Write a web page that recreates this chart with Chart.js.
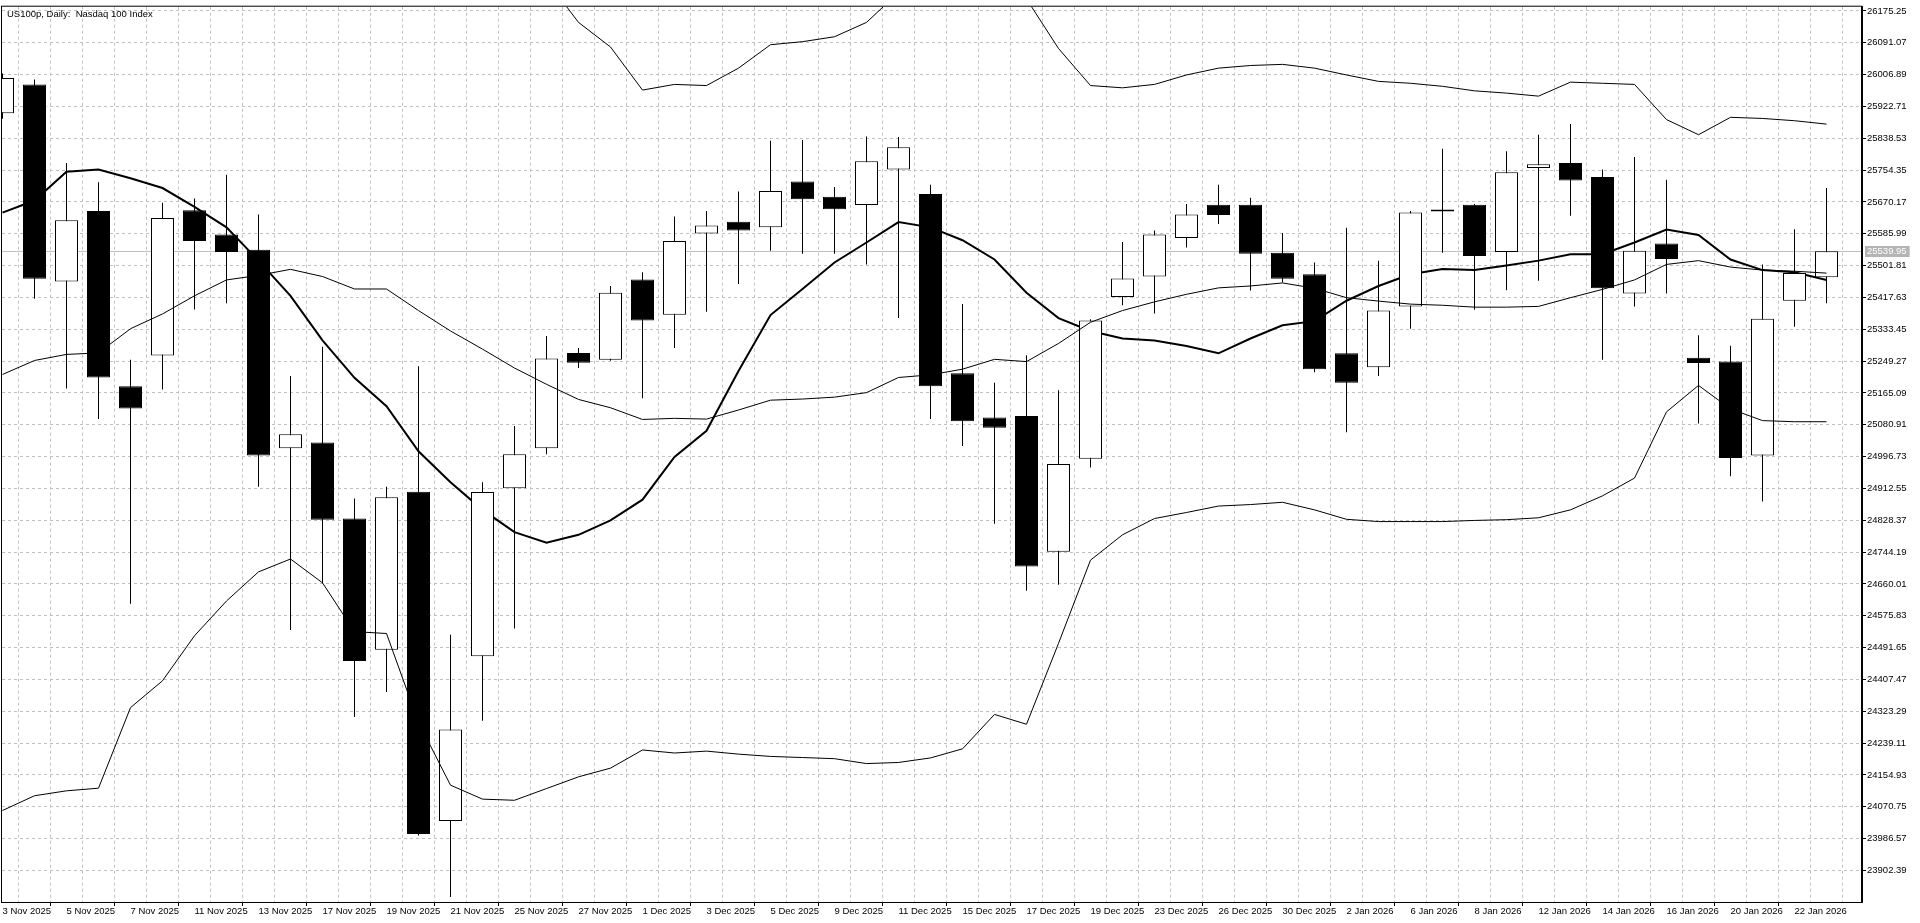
<!DOCTYPE html>
<html>
<head>
<meta charset="utf-8">
<title>US100p, Daily</title>
<script src="https://cdn.jsdelivr.net/npm/chart.js@4.4.1/dist/chart.umd.min.js"></script>
<style>
  html, body { margin: 0; padding: 0; background: #ffffff; }
  #wrap { width: 1920px; height: 923px; }
</style>
</head>
<body>
<div id="wrap"><canvas id="myChart" width="1920" height="923"></canvas></div>
<script>

// 1. 데이터
const dates = ["3 Nov 2025","4 Nov 2025","5 Nov 2025","6 Nov 2025","7 Nov 2025","10 Nov 2025","11 Nov 2025","12 Nov 2025","13 Nov 2025","14 Nov 2025",
	"17 Nov 2025","18 Nov 2025","19 Nov 2025","20 Nov 2025","21 Nov 2025","24 Nov 2025","25 Nov 2025","26 Nov 2025","27 Nov 2025","28 Nov 2025",
	"1 Dec 2025","2 Dec 2025","3 Dec 2025","4 Dec 2025","5 Dec 2025","8 Dec 2025","9 Dec 2025","10 Dec 2025","11 Dec 2025","12 Dec 2025",
	"15 Dec 2025","16 Dec 2025","17 Dec 2025","18 Dec 2025","19 Dec 2025","22 Dec 2025","23 Dec 2025","24 Dec 2025","26 Dec 2025","29 Dec 2025",
	"30 Dec 2025","31 Dec 2025","2 Jan 2026","5 Jan 2026","6 Jan 2026","7 Jan 2026","8 Jan 2026","9 Jan 2026","12 Jan 2026","13 Jan 2026",
	"14 Jan 2026","15 Jan 2026","16 Jan 2026","19 Jan 2026","20 Jan 2026","21 Jan 2026","22 Jan 2026","23 Jan 2026"];

const opens = [25905,25981,25460,25646,25183,25264,25648,25584,25544,25019,
	25034,24833,24486,24904,24033,24469,24913,25019,25271,25253,
	25465,25372,25587,25618,25603,25724,25684,25662,25756,25691,
	25217,25100,25104,24745,24991,25419,25473,25575,25663,25663,
	25536,25479,25270,25233,25394,25645,25663,25538,25760,25773,
	25736,25428,25560,25258,25248,25000,25409,25471];

const highs = [26010,25994,25773,25722,25253,25668,25679,25742,25637,25210,
	25287,24886,24917,25236,24526,24929,25078,25316,25284,25448,
	25484,25632,25646,25698,25832,25834,25710,25843,25842,25716,
	25400,25192,25265,25172,25360,25564,25595,25665,25716,25681,
	25588,25510,25602,25515,25646,25811,25665,25804,25848,25876,
	25756,25789,25729,25318,25290,25505,25598,25707];

const lows = [25890,25414,25177,25096,24608,25174,25386,25402,24917,24538,
	24662,24308,24374,23995,23832,24298,24542,25003,25231,25250,
	25151,25284,25380,25453,25541,25533,25533,25505,25363,25096,
	25025,24819,24642,24658,24968,25397,25375,25550,25612,25436,
	25457,25220,25061,25210,25335,25536,25385,25437,25462,25634,
	25253,25394,25428,25084,24945,24878,25340,25402];

const closes = [25998,25467,25622,25206,25124,25628,25567,25538,25000,25056,
	24830,24456,24889,23999,24275,24903,25003,25256,25245,25430,
	25357,25567,25608,25595,25699,25677,25651,25778,25815,25183,
	25090,25073,24706,24977,25357,25468,25584,25637,25636,25533,
	25467,25228,25192,25383,25642,25650,25527,25749,25770,25727,
	25442,25541,25519,25244,24993,25361,25482,25539.95];

// 굵은 이동평균선
const maLine = [25642,25674,25750,25756,25733,25707,25657,25603,25515,25422,
	25304,25205,25130,25011,24929,24856,24797,24769,24790,24828,
	24883,24996,25065,25223,25371,25440,25510,25563,25617,25603,
	25569,25518,25430,25363,25329,25309,25304,25289,25270,25309,
	25344,25355,25409,25448,25479,25493,25490,25502,25515,25532,
	25532,25563,25597,25583,25518,25490,25484,25464];

// 볼린저 밴드 (위쪽 값 일부는 화면 밖)
const bbUpper = [26367,26403,26421,26423,26337,26344,26320,26313,26260,26257,
	26283,26347,26351,26472,26530,26471,26375,26257,26145,26080,
	25966,25981,25978,26024,26086,26094,26107,26145,26224,26226,
	26232,26193,26207,26076,25978,25972,25981,26006,26024,26031,
	26034,26024,26006,25989,25984,25976,25964,25958,25950,25987,
	25984,25981,25888,25848,25894,25891,25885,25876];

const bbMiddle = [25214,25251,25267,25271,25335,25374,25422,25464,25476,25492,
	25473,25440,25440,25383,25329,25281,25231,25188,25148,25126,
	25095,25098,25096,25120,25146,25149,25154,25166,25206,25213,
	25228,25254,25248,25296,25352,25383,25406,25426,25443,25448,
	25456,25442,25417,25408,25400,25397,25392,25392,25394,25417,
	25439,25464,25505,25515,25498,25490,25487,25482];

const bbLower = [24061,24100,24113,24120,24333,24404,24523,24615,24692,24726,
	24663,24534,24529,24294,24128,24091,24088,24119,24150,24173,
	24221,24213,24218,24210,24204,24201,24198,24185,24188,24200,
	24224,24315,24289,24503,24723,24790,24833,24849,24866,24870,
	24876,24856,24831,24825,24825,24825,24828,24830,24835,24856,
	24893,24940,25115,25185,25123,25092,25089,25089];

// 오른쪽 가격 눈금
const priceTicks = [26175.25,26091.07,26006.89,25922.71,25838.53,25754.35,25670.17,25585.99,25501.81,25417.63,
	25333.45,25249.27,25165.09,25080.91,24996.73,24912.55,24828.37,24744.19,24660.01,24575.83,
	24491.65,24407.47,24323.29,24239.11,24154.93,24070.75,23986.57,23902.39];

const titleText = "US100p, Daily:  Nasdaq 100 Index";
const lastPrice = closes[closes.length - 1];

const font = "Liberation Sans, Arial, sans-serif";
const gridGray = "#c0c0c0";

// 2. 차트용 배열 만들기
let wickData = [];
let bodyData = [];
let bodyColor = [];
let maData = [];
let upData = [];
let midData = [];
let lowData = [];

for (let i = 0; i < dates.length; i++) {
	wickData.push({ x: i, y: [lows[i], highs[i]] });
	bodyData.push({ x: i, y: [opens[i], closes[i]] });
	bodyColor.push(closes[i] >= opens[i] ? "#ffffff" : "#000000");
	maData.push({ x: i, y: maLine[i] });
	upData.push({ x: i, y: bbUpper[i] });
	midData.push({ x: i, y: bbMiddle[i] });
	lowData.push({ x: i, y: bbLower[i] });
}

// 3. 제목, 테두리, 현재가 표시
const extras = {
	id: "extras",
	beforeDatasetsDraw(chart) {
		const ctx = chart.ctx;
		const a = chart.chartArea;
		const y = Math.round(chart.scales.y.getPixelForValue(lastPrice)) + 0.5;
		ctx.save();
		ctx.strokeStyle = "#c0c0c0";
		ctx.lineWidth = 1;
		ctx.beginPath();
		ctx.moveTo(a.left, y);
		ctx.lineTo(a.right, y);
		ctx.stroke();
		ctx.restore();
	},
	afterDraw(chart) {
		const ctx = chart.ctx;
		const a = chart.chartArea;
		ctx.save();
		// 테두리
		ctx.strokeStyle = "#000000";
		ctx.lineWidth = 1;
		ctx.strokeRect(a.left - 0.5, a.top - 0.5, a.right - a.left, a.bottom - a.top + 1);
		// 제목
		ctx.fillStyle = "#000000";
		ctx.font = "9.5px " + font;
		ctx.textBaseline = "middle";
		ctx.textAlign = "left";
		ctx.fillText(titleText, a.left + 5, a.top + 8);
		// 현재가 라벨
		const y = Math.round(chart.scales.y.getPixelForValue(lastPrice));
		const txt = lastPrice.toFixed(2);
		const w = ctx.measureText(txt).width;
		ctx.fillStyle = "#b4b4b4";
		ctx.fillRect(a.right + 3, y - 5, w + 5, 11);
		ctx.fillStyle = "#ffffff";
		ctx.fillText(txt, a.right + 5, y + 0.5);
		ctx.restore();
	}
};

// 4. 차트 그리기
const canvas = document.getElementById("myChart");

new Chart(canvas, {
	data: {
		datasets: [
			{
				type: "line",
				label: "MA",
				data: maData,
				borderColor: "#000000",
				borderWidth: 2,
				pointRadius: 0,
				tension: 0,
				order: 5
			},
			{
				type: "bar",
				label: "wick",
				data: wickData,
				backgroundColor: "#000000",
				borderWidth: 0,
				barThickness: 1,
				maxBarThickness: 1,
				inflateAmount: 0,
				grouped: false,
				order: 4
			},
			{
				type: "bar",
				label: "body",
				data: bodyData,
				backgroundColor: bodyColor,
				borderColor: "#000000",
				borderWidth: 1,
				borderSkipped: false,
				barThickness: 23,
				maxBarThickness: 23,
				inflateAmount: 0,
				grouped: false,
				order: 3
			},
			{
				type: "line",
				label: "BB upper",
				data: upData,
				borderColor: "#000000",
				borderWidth: 1,
				pointRadius: 0,
				tension: 0,
				order: 1
			},
			{
				type: "line",
				label: "BB middle",
				data: midData,
				borderColor: "#000000",
				borderWidth: 1,
				pointRadius: 0,
				tension: 0,
				order: 1
			},
			{
				type: "line",
				label: "BB lower",
				data: lowData,
				borderColor: "#000000",
				borderWidth: 1,
				pointRadius: 0,
				tension: 0,
				order: 1
			}
		]
	},
	options: {
		responsive: false,
		animation: false,
		devicePixelRatio: 1,
		layout: { padding: { left: 2, top: 2, right: 0, bottom: 0 } },
		plugins: {
			legend: { display: false },
			tooltip: { enabled: false },
			title: { display: false }
		},
		scales: {
			x: {
				type: "linear",
				min: -1 / 64,
				max: -1 / 64 + 1860 / 32,
				offset: false,
				afterBuildTicks: function(scale) {
					scale.ticks = dates.map(function(d, i) { return { value: i }; });
				},
				afterFit: function(scale) { scale.height = 21; },
				ticks: {
					autoSkip: false,
					maxRotation: 0,
					minRotation: 0,
					align: "start",
					padding: 0,
					color: "#000000",
					font: { family: font, size: 9.5 },
					callback: function(value) {
						const i = Math.round(value);
						return i % 2 === 0 ? dates[i] : "";
					}
				},
				grid: {
					color: gridGray,
					lineWidth: 1,
					tickLength: 4,
					tickColor: function(c) { return c.index % 2 === 0 ? "#000000" : "rgba(0,0,0,0)"; },
					tickBorderDash: []
				},
				border: { display: true, color: "#000000", dash: [3, 3] }
			},
			y: {
				type: "linear",
				position: "right",
				min: 23819,
				max: 26186.5,
				afterBuildTicks: function(scale) {
					scale.ticks = priceTicks.map(function(v) { return { value: v }; });
				},
				afterFit: function(scale) { scale.width = 58; },
				ticks: {
					autoSkip: false,
					padding: 1,
					color: "#000000",
					font: { family: font, size: 9.5 },
					callback: function(value) { return Number(value).toFixed(2); }
				},
				grid: {
					color: gridGray,
					lineWidth: 1,
					tickLength: 4,
					tickColor: "#000000",
					tickBorderDash: []
				},
				border: { display: true, color: "#000000", dash: [3, 3] }
			}
		}
	},
	plugins: [extras]
});

</script>
</body>
</html>
